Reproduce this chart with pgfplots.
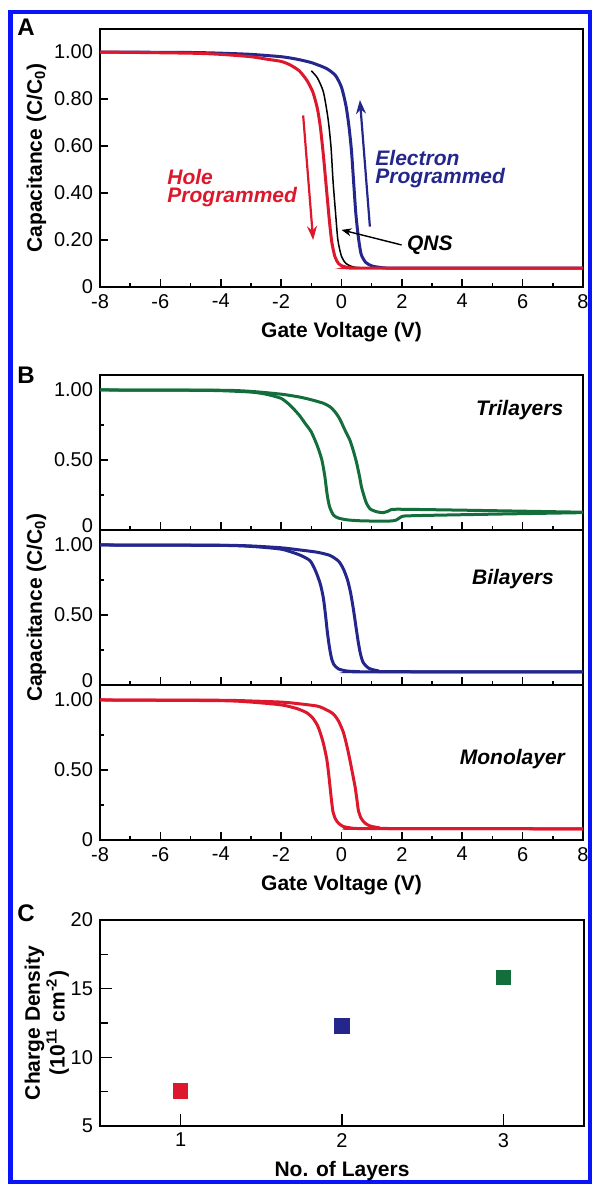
\documentclass[border=0pt]{standalone}
\usepackage{pgfplots}
\pgfplotsset{compat=1.18}
\usepackage{fontspec}
\setmainfont{Liberation Sans}
\usetikzlibrary{arrows.meta}

\definecolor{cred}{RGB}{222,24,44}
\definecolor{cblue}{RGB}{36,38,140}
\definecolor{cgreen}{RGB}{20,110,60}
\definecolor{frameblue}{RGB}{10,20,250}

\pgfplotsset{
  base/.style={
    scale only axis,
    axis line style={line width=1pt},
    tick align=inside,
    xtick pos=lower, ytick pos=left,
    major tick length=4pt, minor tick length=2.2pt,
    tick style={black, line width=0.8pt},
    tick label style={font=\fontsize{10}{12}\selectfont},
    label style={font=\bfseries\fontsize{10.5}{12}\selectfont},
    ylabel shift=-3pt,
    /pgf/number format/assume math mode=true,
  },
  vpanel/.style={base, width=241.5pt, xmin=-8, xmax=8,
    xtick={-8,-6,...,8}, minor x tick num=1},
  bpanel/.style={vpanel, height=77.5pt, ymin=0, ymax=1.107,
    ytick={0,0.5,1}, minor ytick={0.25,0.75}},
  curve/.style={line width=1.5pt, smooth, tension=0.4},
}

\begin{document}
\begin{tikzpicture}
\useasboundingbox (0pt,0pt) rectangle (296pt,592pt);
\draw[frameblue, line width=2.2pt] (5.25pt,1pt) rectangle (295pt,586pt);

\node[anchor=north west, font=\bfseries\fontsize{12}{12}\selectfont, inner sep=0pt] at (8.5pt,582.5pt) {A};
\node[anchor=north west, font=\bfseries\fontsize{12}{12}\selectfont, inner sep=0pt] at (8.5pt,408.5pt) {B};
\node[anchor=north west, font=\bfseries\fontsize{12}{12}\selectfont, inner sep=0pt] at (8.5pt,140pt) {C};

% ---------- A ----------
\begin{axis}[vpanel, at={(50pt,448.5pt)}, anchor=south west, height=129pt,
  ymin=0, ymax=1.098,
  ytick={0,0.2,0.4,0.6,0.8,1}, yticklabels={0,0.20,0.40,0.60,0.80,1.00},
  xlabel={Gate Voltage (V)}, ylabel={Capacitance (C/C\textsubscript{0})}]
\addplot[curve, cblue] coordinates {
 (-8,1.0) (-5,0.998) (-4,0.995) (-3,0.99) (-2,0.98) (-1.5,0.97) (-1,0.955)
 (-0.5,0.93) (-0.2,0.9) (0,0.85) (0.15,0.77) (0.25,0.68) (0.33,0.58) (0.4,0.45)
 (0.47,0.32) (0.55,0.22) (0.65,0.14) (0.8,0.105) (1.0,0.09) (1.3,0.083) (2,0.08) (8,0.08)};
\addplot[line width=0.75pt, black, smooth, tension=0.4] coordinates {
 (-1.0,0.92) (-0.8,0.89) (-0.6,0.83) (-0.45,0.72) (-0.35,0.60) (-0.28,0.45)
 (-0.2,0.32) (-0.12,0.2) (0,0.13) (0.15,0.1) (0.4,0.085) (0.8,0.08)};
\addplot[curve, cred] coordinates {
 (-8,1.0) (-5,0.995) (-4,0.99) (-3,0.98) (-2.5,0.97) (-2,0.96) (-1.7,0.945)
 (-1.4,0.92) (-1.15,0.88) (-0.95,0.83) (-0.8,0.76) (-0.7,0.68) (-0.6,0.56)
 (-0.5,0.42) (-0.4,0.28) (-0.32,0.19) (-0.22,0.13) (-0.1,0.10) (0.05,0.088)
 (0.3,0.082) (0.8,0.08) (8,0.08)};
\draw[cred, line width=1.1pt, -{Stealth[length=7pt,width=5pt]}] (axis cs:-1.27,0.73) -- (axis cs:-0.94,0.20);
\draw[cblue, line width=1.1pt, -{Stealth[length=7pt,width=5pt]}] (axis cs:0.94,0.257) -- (axis cs:0.61,0.796);
\draw[black, line width=0.7pt, -{Stealth[length=5pt,width=4pt]}] (axis cs:1.99,0.179) -- (axis cs:0.0,0.243);
\node[anchor=west, align=left, text=cred, font=\bfseries\itshape\fontsize{10.5}{9}\selectfont, inner sep=0pt] at (axis cs:-5.78,0.423) {Hole\\Programmed};
\node[anchor=west, align=left, text=cblue, font=\bfseries\itshape\fontsize{10.5}{9}\selectfont, inner sep=0pt] at (axis cs:1.11,0.50) {Electron\\Programmed};
\node[anchor=west, font=\bfseries\itshape\fontsize{10.5}{12}\selectfont, inner sep=0pt] at (axis cs:2.16,0.176) {QNS};
\end{axis}

% ---------- B: trilayers ----------
\begin{axis}[bpanel, at={(50pt,327pt)}, anchor=south west,
  xticklabels={}, yticklabels={\raisebox{4pt}{0},0.50,1.00}]
\addplot[curve, cgreen] coordinates {
 (-8,1.0) (-5,0.998) (-4,0.995) (-3,0.985) (-2.5,0.97) (-2,0.94) (-1.7,0.89)
 (-1.4,0.82) (-1.2,0.76) (-1.0,0.70) (-0.8,0.60) (-0.65,0.50) (-0.55,0.38)
 (-0.48,0.26) (-0.4,0.17) (-0.27,0.107) (-0.1,0.085) (0.2,0.072) (0.6,0.066)
 (1.0,0.064) (1.6,0.064) (1.8,0.07) (1.95,0.09) (2.1,0.10) (3,0.105) (5,0.113) (8,0.124)};
\addplot[curve, cgreen] coordinates {
 (-8,1.0) (-4,0.998) (-3,0.99) (-2,0.97) (-1.4,0.95) (-1,0.93) (-0.6,0.905)
 (-0.38,0.88) (-0.2,0.84) (-0.05,0.79) (0.1,0.72) (0.28,0.64) (0.4,0.56)
 (0.5,0.48) (0.6,0.38) (0.66,0.31) (0.75,0.24) (0.83,0.19) (0.95,0.15)
 (1.17,0.13) (1.38,0.124) (1.55,0.135) (1.75,0.148) (3,0.145) (5,0.138) (8,0.127)};
\node[font=\bfseries\itshape\fontsize{10.5}{12}\selectfont] at (axis cs:5.9,0.86) {Trilayers};
\end{axis}

% ---------- B: bilayers ----------
\begin{axis}[bpanel, at={(50pt,249.5pt)}, anchor=south west,
  xticklabels={}, yticklabels={\raisebox{4pt}{0},0.50,1.00},
  ylabel={Capacitance (C/C\textsubscript{0})}]
\addplot[curve, cblue] coordinates {
 (-8,1.0) (-4,0.997) (-3,0.99) (-2,0.97) (-1.4,0.93) (-1.04,0.887) (-0.85,0.81)
 (-0.7,0.72) (-0.6,0.62) (-0.53,0.50) (-0.47,0.38) (-0.4,0.27) (-0.33,0.19)
 (-0.25,0.145) (-0.1,0.115) (0.17,0.10) (0.5,0.096) (0.8,0.094) (8,0.094)};
\addplot[curve, cblue] coordinates {
 (-8,1.0) (-4,0.998) (-3,0.993) (-2,0.98) (-1.4,0.965) (-0.8,0.948) (-0.38,0.925)
 (-0.1,0.885) (0.06,0.83) (0.2,0.75) (0.3,0.66) (0.38,0.56) (0.45,0.46)
 (0.51,0.37) (0.56,0.30) (0.63,0.22) (0.72,0.16) (0.9,0.12) (1.17,0.103)
 (1.6,0.095) (8,0.094)};
\node[font=\bfseries\itshape\fontsize{10.5}{12}\selectfont] at (axis cs:5.68,0.76) {Bilayers};
\end{axis}

% ---------- B: monolayer ----------
\begin{axis}[bpanel, at={(50pt,172pt)}, anchor=south west,
  yticklabels={0,0.50,1.00}, xlabel={Gate Voltage (V)}]
\addplot[curve, cred] coordinates {
 (-8,1.0) (-4,0.995) (-3,0.985) (-2,0.965) (-1.5,0.94) (-1.16,0.91) (-0.95,0.87)
 (-0.8,0.82) (-0.71,0.77) (-0.6,0.69) (-0.49,0.58) (-0.43,0.48) (-0.38,0.38)
 (-0.33,0.28) (-0.28,0.20) (-0.2,0.15) (-0.1,0.12) (0.05,0.097) (0.28,0.087)
 (0.6,0.082) (8,0.08)};
\addplot[curve, cred] coordinates {
 (-8,1.0) (-4,0.998) (-3,0.993) (-2,0.985) (-1.7,0.98) (-0.82,0.957) (-0.5,0.93)
 (-0.27,0.90) (-0.1,0.85) (0.06,0.77) (0.18,0.67) (0.28,0.57) (0.37,0.47)
 (0.45,0.38) (0.51,0.29) (0.56,0.21) (0.65,0.155) (0.78,0.12) (0.95,0.1)
 (1.17,0.09) (1.6,0.082) (8,0.08)};
\node[font=\bfseries\itshape\fontsize{10.5}{12}\selectfont] at (axis cs:5.66,0.575) {Monolayer};
\end{axis}

% ---------- C ----------
\begin{axis}[base, at={(50pt,29pt)}, anchor=south west, width=242pt, height=103pt,
  xmin=0.5, xmax=3.5, ymin=5, ymax=20,
  xtick={1,2,3}, ytick={5,10,15,20}, minor ytick={7.5,12.5,17.5},
  major tick length=6pt, minor tick length=4pt,
  xlabel={No. of Layers}, ylabel shift=-6pt,
  ylabel={Charge Density\\(10\textsuperscript{11} cm\textsuperscript{-2})},
  ylabel style={align=center, font=\bfseries\fontsize{10.5}{10}\selectfont}]
\addplot[only marks, mark=square*, mark size=3.6pt, cred] coordinates {(1,7.55)};
\addplot[only marks, mark=square*, mark size=3.6pt, cblue] coordinates {(2,12.28)};
\addplot[only marks, mark=square*, mark size=3.6pt, cgreen] coordinates {(3,15.83)};
\end{axis}
\end{tikzpicture}
\end{document}
